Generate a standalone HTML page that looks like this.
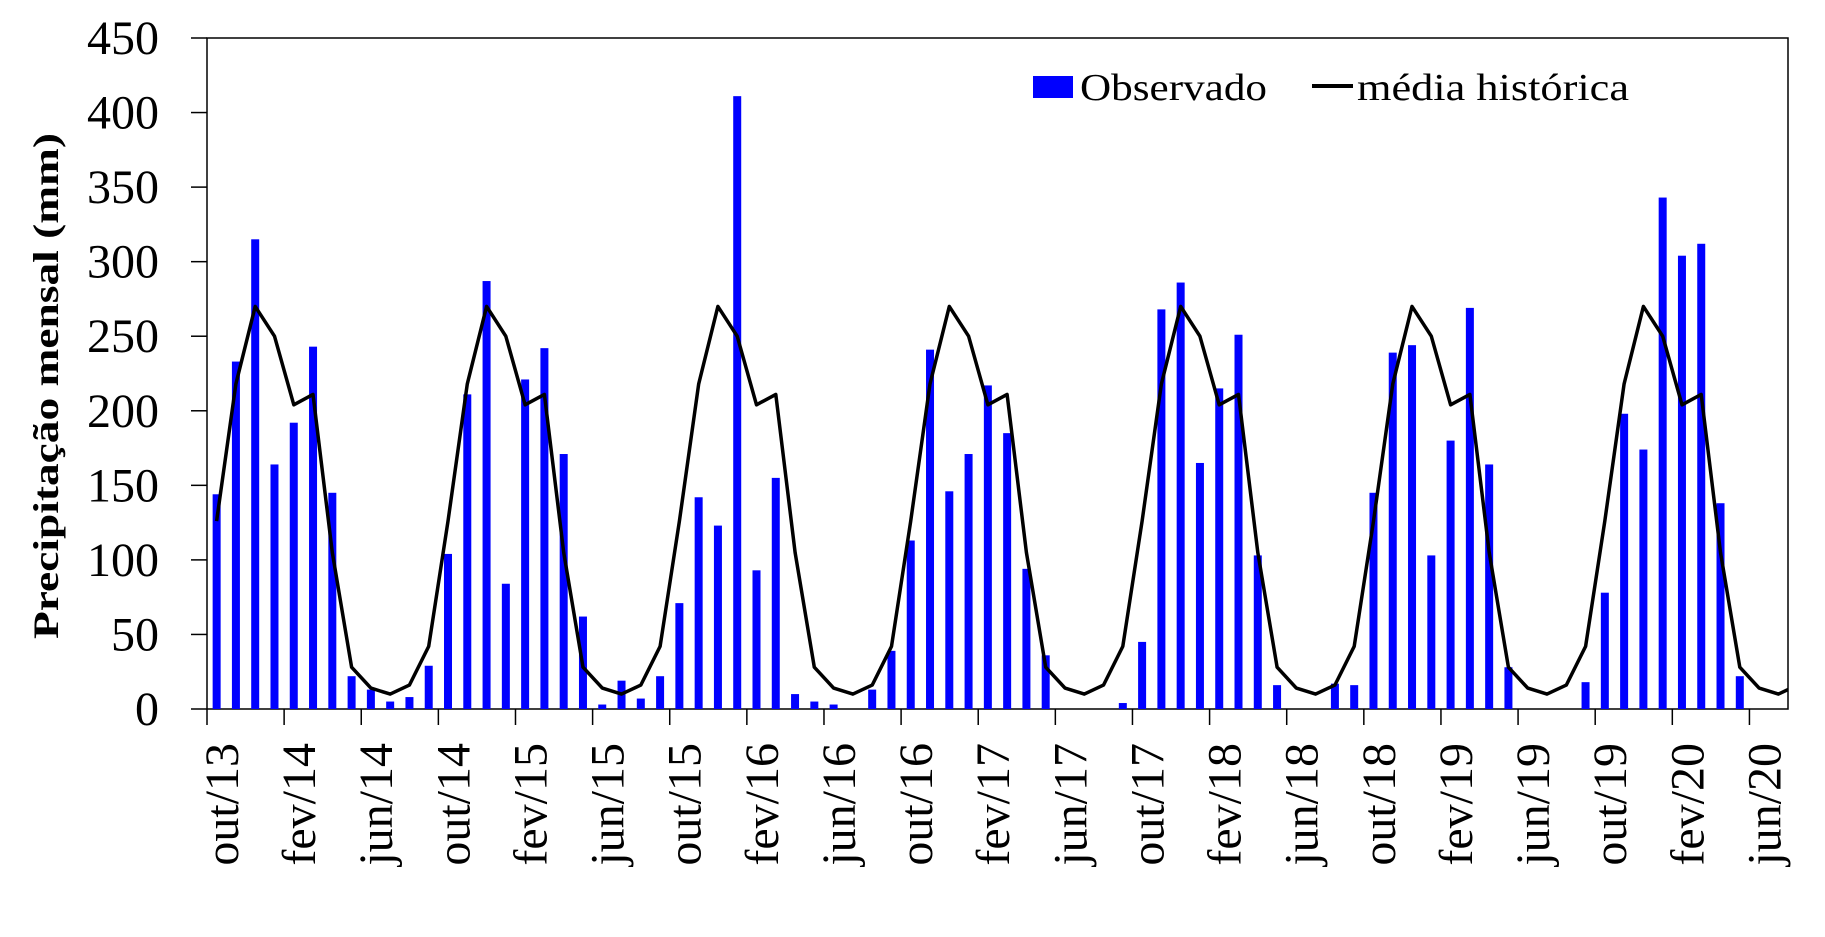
<!DOCTYPE html>
<html><head><meta charset="utf-8">
<style>html,body{margin:0;padding:0;background:#fff}svg{display:block}</style>
</head><body>
<svg id="chart" width="1825" height="937" xmlns="http://www.w3.org/2000/svg" font-family="'Liberation Serif', serif">
<defs><clipPath id="plotclip"><rect x="207" y="38" width="1581" height="671"/></clipPath></defs>
<g id="axes"></g>
<g id="bars"></g>
<g id="line" clip-path="url(#plotclip)"></g>
<g id="legend">
  <rect x="1033" y="76" width="40" height="22" fill="#0000ff"/>
  <text x="1080" y="100" font-size="38" textLength="187" lengthAdjust="spacingAndGlyphs">Observado</text>
  <line x1="1312" y1="86" x2="1353" y2="86" stroke="#000" stroke-width="4"/>
  <text x="1357" y="100" font-size="38" textLength="272" lengthAdjust="spacingAndGlyphs">média histórica</text>
</g>
<text transform="translate(58,386) rotate(-90)" text-anchor="middle" font-size="36" font-weight="bold" textLength="506" lengthAdjust="spacingAndGlyphs">Precipitação mensal (mm)</text>
</svg>
<script>
const yTicks = [0,50,100,150,200,250,300,350,400,450];
const xTickLabels = ["out/13","fev/14","jun/14","out/14","fev/15","jun/15","out/15","fev/16","jun/16","out/16","fev/17","jun/17","out/17","fev/18","jun/18","out/18","fev/19","jun/19","out/19","fev/20","jun/20"];
const observado = [
144,233,315,164,192,243,145,22,13,5,8,29,
104,211,287,84,221,242,171,62,3,19,7,22,
71,142,123,411,93,155,10,5,3,0,13,39,
113,241,146,171,217,185,94,36,0,0,0,4,
45,268,286,165,215,251,103,16,0,0,17,16,
145,239,244,103,180,269,164,28,0,0,0,18,
78,198,174,343,304,312,138,22,0,0];
const mediaMensal = [126,218,270,250,204,211,105,28,14,10,16,42];

const NS = "http://www.w3.org/2000/svg";
const L = 207, R = 1788, T = 38, B = 709, YMAX = 450;
const n = observado.length;
const step = (R - L) / n;
const xBand = i => L + i * step;
const xCenter = i => L + (i + 0.5) * step;
const y = v => B - (v / YMAX) * (B - T);
function mk(tag, attrs, parent){const e=document.createElementNS(NS,tag);for(const k in attrs)e.setAttribute(k,attrs[k]);parent.appendChild(e);return e;}

const axes = document.getElementById('axes');
const frame = mk('rect',{x:L,y:T,width:R-L,height:B-T,fill:'none',stroke:'#000','stroke-width':1.5},axes);


yTicks.forEach(v=>{
  const t = mk('line',{x1:L-16,x2:L,y1:y(v),y2:y(v),stroke:'#000','stroke-width':1.5},axes);
  
  
  const tx = mk('text',{x:159,y:y(v)+16,'text-anchor':'end','font-size':48},axes);
  tx.textContent = v;
  
  
});
xTickLabels.forEach((lab,k)=>{
  const x = xBand(k*4);
  const t = mk('line',{x1:x,x2:x,y1:B,y2:B+16,stroke:'#000','stroke-width':1.5},axes);
  
  
  const tx = mk('text',{transform:`translate(${x+31},743) rotate(-90)`,'text-anchor':'end','font-size':48},axes);
  tx.textContent = lab;
  
  
});

const bars = document.getElementById('bars');
observado.forEach((v,i)=>{
  if(v<=0) return;
  const r = mk('rect',{x:xCenter(i)-4,y:y(v),width:8,height:B-y(v),fill:'#0000ff'},bars);
  
  
});

const pts = [];
for(let i=0;i<=n;i++){pts.push(xCenter(i).toFixed(1)+','+y(mediaMensal[i%12]).toFixed(1));}
const pl = mk('polyline',{points:pts.join(' '),fill:'none',stroke:'#000','stroke-width':3.5,'stroke-linejoin':'round'},document.getElementById('line'));


</script>
</body></html>
